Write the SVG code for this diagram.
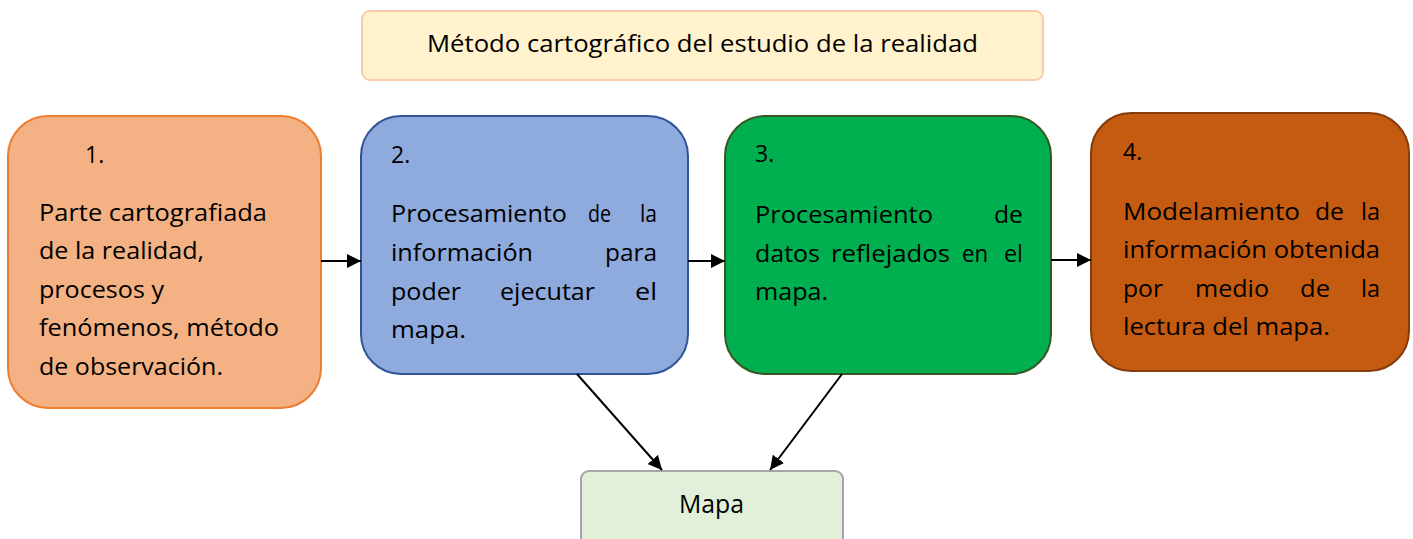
<svg xmlns="http://www.w3.org/2000/svg" width="1413" height="539" viewBox="0 0 1413 539">
<style>
.t{font-family:"Open Sans","Liberation Sans",sans-serif;font-size:23px;fill:#000}
.c{stroke:#000;stroke-width:2;fill:none}
</style>
<defs>
<marker id="ah" viewBox="0 0 10 10" refX="10" refY="5" markerWidth="14" markerHeight="14" markerUnits="userSpaceOnUse" orient="auto">
<path d="M0,0 L10,5 L0,10 z" fill="#000"/>
</marker>
</defs>
<rect width="1413" height="539" fill="#fff"/>
<g id="title">
<rect x="362" y="11" width="681" height="69" rx="8" fill="#fff2cc" stroke="#f8cbad" stroke-width="2"/>
<text class="t" x="427" y="52" textLength="551" lengthAdjust="spacingAndGlyphs">Método cartográfico del estudio de la realidad</text>
</g>
<g id="n1">
<rect x="8" y="116" width="313" height="292" rx="40" fill="#f4b183" stroke="#ed7d31" stroke-width="2"/>
<text class="t" x="85" y="163">1.</text>
<text class="t" x="39" y="221" textLength="228" lengthAdjust="spacingAndGlyphs">Parte cartografiada</text>
<text class="t" x="39" y="259" textLength="165" lengthAdjust="spacingAndGlyphs">de la realidad,</text>
<text class="t" x="39" y="298" textLength="125" lengthAdjust="spacingAndGlyphs">procesos y</text>
<text class="t" x="39" y="336" textLength="240" lengthAdjust="spacingAndGlyphs">fenómenos, método</text>
<text class="t" x="39" y="375" textLength="184" lengthAdjust="spacingAndGlyphs">de observación.</text>
</g>
<g id="n2">
<rect x="361" y="116" width="327" height="258" rx="40" fill="#8faadc" stroke="#2f5597" stroke-width="2"/>
<text class="t" x="391" y="163">2.</text>
<text class="t" y="222"><tspan x="391" textLength="176" lengthAdjust="spacingAndGlyphs">Procesamiento</tspan><tspan x="588" textLength="23" lengthAdjust="spacingAndGlyphs">de</tspan><tspan x="640" textLength="17" lengthAdjust="spacingAndGlyphs">la</tspan></text>
<text class="t" y="261"><tspan x="391" textLength="142" lengthAdjust="spacingAndGlyphs">información</tspan><tspan x="605" textLength="52" lengthAdjust="spacingAndGlyphs">para</tspan></text>
<text class="t" y="300"><tspan x="391" textLength="70" lengthAdjust="spacingAndGlyphs">poder</tspan><tspan x="500" textLength="95" lengthAdjust="spacingAndGlyphs">ejecutar</tspan><tspan x="635" textLength="22" lengthAdjust="spacingAndGlyphs">el</tspan></text>
<text class="t" x="391" y="338" textLength="75" lengthAdjust="spacingAndGlyphs">mapa.</text>
</g>
<g id="n3">
<rect x="725" y="116" width="326" height="258" rx="40" fill="#00b050" stroke="#385723" stroke-width="2"/>
<text class="t" x="755" y="162">3.</text>
<text class="t" y="223"><tspan x="755" textLength="178" lengthAdjust="spacingAndGlyphs">Procesamiento</tspan><tspan x="994" textLength="29" lengthAdjust="spacingAndGlyphs">de</tspan></text>
<text class="t" y="262"><tspan x="755" textLength="65" lengthAdjust="spacingAndGlyphs">datos</tspan><tspan x="831" textLength="119" lengthAdjust="spacingAndGlyphs">reflejados</tspan><tspan x="962" textLength="26" lengthAdjust="spacingAndGlyphs">en</tspan><tspan x="1004" textLength="19" lengthAdjust="spacingAndGlyphs">el</tspan></text>
<text class="t" x="755" y="300" textLength="73" lengthAdjust="spacingAndGlyphs">mapa.</text>
</g>
<g id="n4">
<rect x="1091" y="113" width="318" height="258" rx="40" fill="#c55a11" stroke="#843c0c" stroke-width="2"/>
<text class="t" x="1123" y="160">4.</text>
<text class="t" y="220"><tspan x="1123" textLength="177" lengthAdjust="spacingAndGlyphs">Modelamiento</tspan><tspan x="1315" textLength="29" lengthAdjust="spacingAndGlyphs">de</tspan><tspan x="1361" textLength="19" lengthAdjust="spacingAndGlyphs">la</tspan></text>
<text class="t" x="1123" y="258" textLength="257" lengthAdjust="spacingAndGlyphs">información obtenida</text>
<text class="t" y="297"><tspan x="1123" textLength="40" lengthAdjust="spacingAndGlyphs">por</tspan><tspan x="1195" textLength="74" lengthAdjust="spacingAndGlyphs">medio</tspan><tspan x="1300" textLength="30" lengthAdjust="spacingAndGlyphs">de</tspan><tspan x="1361" textLength="19" lengthAdjust="spacingAndGlyphs">la</tspan></text>
<text class="t" x="1123" y="335" textLength="207" lengthAdjust="spacingAndGlyphs">lectura del mapa.</text>
</g>
<g id="mapa">
<rect x="581" y="471" width="262" height="80" rx="8" fill="#e2f0d9" stroke="#a5a5a5" stroke-width="2"/>
<text class="t" x="679" y="513" style="font-size:25px" textLength="65" lengthAdjust="spacingAndGlyphs">Mapa</text>
</g>
<g id="connectors">
<line class="c" x1="321" y1="261" x2="361" y2="261" marker-end="url(#ah)"/>
<line class="c" x1="688" y1="261" x2="725" y2="261" marker-end="url(#ah)"/>
<line class="c" x1="1051" y1="260" x2="1091" y2="260" marker-end="url(#ah)"/>
<line class="c" x1="577" y1="374" x2="662" y2="470" marker-end="url(#ah)"/>
<line class="c" x1="842" y1="374" x2="770" y2="470" marker-end="url(#ah)"/>
</g>
</svg>
